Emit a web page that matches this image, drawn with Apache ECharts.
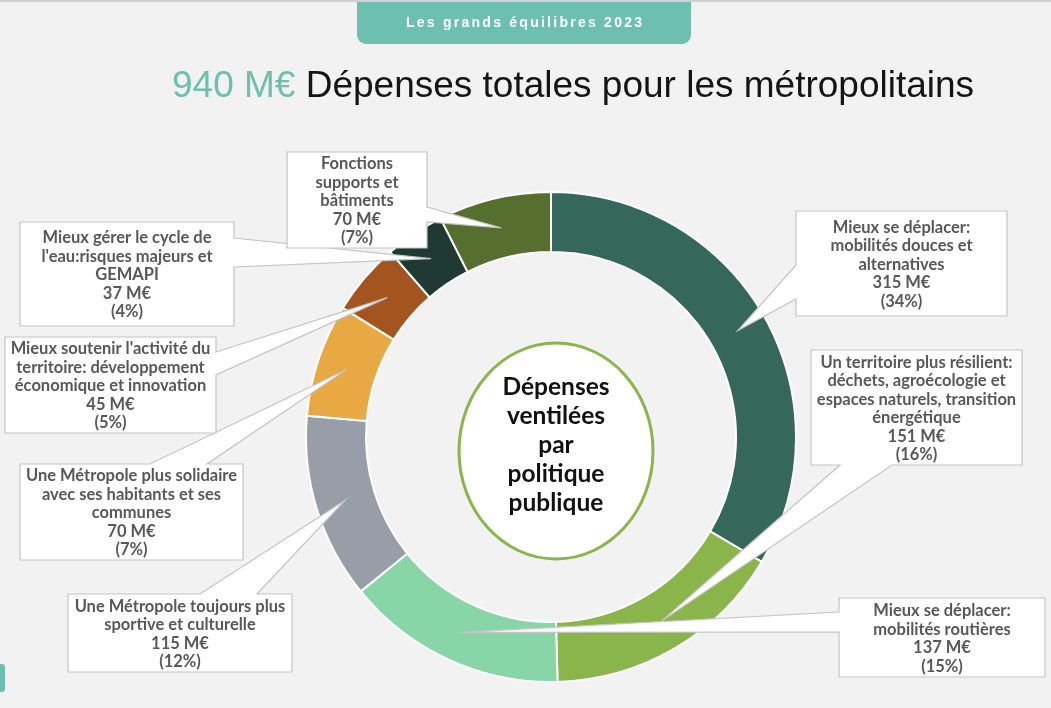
<!DOCTYPE html>
<html><head><meta charset="utf-8">
<script src="https://cdn.jsdelivr.net/npm/echarts@6/dist/echarts.min.js"></script>
<style>html,body{margin:0;padding:0;background:#f2f2f2;overflow:hidden}#c{width:1051px;height:708px}</style>
</head><body><div id="c"></div>
<script>
// ---- data ----
const categories = [
  'Mieux se déplacer:\nmobilités douces et\nalternatives',
  'Un territoire plus résilient:\ndéchets, agroécologie et\nespaces naturels, transition\nénergétique',
  'Mieux se déplacer:\nmobilités routières',
  'Une Métropole toujours plus\nsportive et culturelle',
  'Une Métropole plus solidaire\navec ses habitants et ses\ncommunes',
  "Mieux soutenir l'activité du\nterritoire: développement\néconomique et innovation",
  "Mieux gérer le cycle de\nl'eau:risques majeurs et\nGEMAPI",
  'Fonctions\nsupports et\nbâtiments'
];
const values = [315, 151, 137, 115, 70, 45, 37, 70];
const unit = ' M€';
const totalLabel = '940 M€';
const titleText = 'Dépenses totales pour les métropolitains';
const tabText = 'Les grands équilibres 2023';
const centerText = 'Dépenses\nventilées\npar\npolitique\npublique';

// ---- styles / layout ----
const colors = ['#35675a', '#8ab54a', '#88d6a8', '#979ea7', '#e8a843', '#a4551f', '#1f3a32', '#566e2e'];
const teal = '#6dbfb0';
const boxes = [
  {x0: 796, y0: 211, x1: 1007, y1: 316, side: 'left',   b: [265, 299]},
  {x0: 811, y0: 350, x1: 1022, y1: 465, side: 'bottom', b: [840, 892]},
  {x0: 839, y0: 598, x1: 1045, y1: 677, side: 'left',   b: [612, 632]},
  {x0: 68,  y0: 594, x1: 292,  y1: 672, side: 'top',    b: [200, 257]},
  {x0: 20,  y0: 464, x1: 243,  y1: 560, side: 'top',    b: [150, 207]},
  {x0: 5,   y0: 337, x1: 216,  y1: 433, side: 'right',  b: [352, 375]},
  {x0: 20,  y0: 222, x1: 234,  y1: 326, side: 'right',  b: [238, 267]},
  {x0: 287, y0: 152, x1: 427,  y1: 248, side: 'right',  b: [207, 222]}
];

const chart = echarts.init(document.getElementById('c'), null, {renderer: 'canvas'});
const total = values.reduce((a, b) => a + b, 0);

chart.setOption({
  backgroundColor: '#f2f2f2',
  animation: false,
  series: [{
    type: 'pie',
    center: [551, 437],
    radius: [185, 245],
    startAngle: 90,
    clockwise: true,
    silent: true,
    avoidLabelOverlap: false,
    label: {show: false},
    labelLine: {show: false},
    itemStyle: {borderColor: '#ffffff', borderWidth: 2},
    data: values.map((v, i) => ({name: categories[i], value: v, itemStyle: {color: colors[i]}}))
  }]
});

// tips of callouts: mid-angle, mid-radius point of each slice (from the pie layout)
let tips = [];
try {
  const d = chart.getModel().getSeriesByIndex(0).getData();
  for (let i = 0; i < values.length; i++) {
    const L = d.getItemLayout(i);
    const mid = (L.startAngle + L.endAngle) / 2;
    const rm = (L.r + L.r0) / 2;
    tips.push([L.cx + rm * Math.cos(mid), L.cy + rm * Math.sin(mid)]);
  }
} catch (e) {
  tips = [];
  let a = -Math.PI / 2;
  for (let i = 0; i < values.length; i++) {
    const span = values[i] / total * Math.PI * 2;
    const mid = a + span / 2;
    tips.push([551 + 215 * Math.cos(mid), 437 + 215 * Math.sin(mid)]);
    a += span;
  }
}

function calloutPoints(bx, tip) {
  const {x0, y0, x1, y1, side, b} = bx;
  if (side === 'top') return [[x0, y0], [b[0], y0], tip, [b[1], y0], [x1, y0], [x1, y1], [x0, y1]];
  if (side === 'right') return [[x0, y0], [x1, y0], [x1, b[0]], tip, [x1, b[1]], [x1, y1], [x0, y1]];
  if (side === 'bottom') return [[x0, y0], [x1, y0], [x1, y1], [b[1], y1], tip, [b[0], y1], [x0, y1]];
  return [[x0, y0], [x1, y0], [x1, y1], [x0, y1], [x0, b[1]], tip, [x0, b[0]]];
}

const elements = [
  {type: 'rect', shape: {x: 0, y: 0, width: 1051, height: 2}, style: {fill: '#cfcfcf'}, z: 1},
  {type: 'rect', shape: {x: 357, y: 2, width: 334, height: 42, r: [0, 0, 9, 9]}, style: {fill: teal}, z: 1},
  {type: 'text', x: 172, y: 87, z: 2, style: {
    text: '{a|' + totalLabel + '}{b| ' + titleText + '}',
    verticalAlign: 'middle', align: 'left',
    rich: {
      a: {fill: teal, font: '37px "Liberation Sans", Arial'},
      b: {fill: '#141414', font: '37px "Liberation Sans", Arial'}
    }}},
  {type: 'rect', shape: {x: -4, y: 664, width: 9, height: 28, r: 3}, style: {fill: teal}, z: 1},
  {type: 'ellipse', shape: {cx: 556, cy: 451, rx: 97, ry: 108}, style: {fill: '#ffffff', stroke: '#8ab54a', lineWidth: 3}, z: 5},
  {type: 'text', x: 556, y: 445, z: 6, style: {
    text: centerText, font: 'bold 24.5px Lato, "Open Sans", sans-serif', fill: '#111111',
    align: 'center', verticalAlign: 'middle', lineHeight: 29}}
];

// letter-spaced tab title
(function () {
  const font = 'bold 14px "Liberation Sans", Arial';
  const ctx = document.createElement('canvas').getContext('2d');
  ctx.font = font;
  const chars = tabText.split('');
  const widths = chars.map(c => ctx.measureText(c).width);
  const plain = widths.reduce((a, b) => a + b, 0);
  const ls = Math.max(0, (236 - plain) / (chars.length - 1));
  let x = 524 - (plain + ls * (chars.length - 1)) / 2;
  chars.forEach((c, i) => {
    elements.push({type: 'text', x: x, y: 23, z: 2, style: {text: c, font: font, fill: '#ffffff', align: 'left', verticalAlign: 'middle'}});
    x += widths[i] + ls;
  });
})();

for (let i = 0; i < values.length; i++) {
  const bx = boxes[i];
  const pct = Math.round(values[i] / total * 100);
  elements.push({
    type: 'polygon', z: 10, z2: i * 2,
    shape: {points: calloutPoints(bx, tips[i])},
    style: {fill: '#ffffff', stroke: '#c4c4c4', lineWidth: 1.2}
  });
  elements.push({
    type: 'text', z: 10, z2: i * 2 + 1,
    x: (bx.x0 + bx.x1) / 2, y: (bx.y0 + bx.y1) / 2 + 1,
    style: {
      text: categories[i] + '\n' + values[i] + unit + '\n(' + pct + '%)',
      font: 'bold 16.5px Lato, "Open Sans", sans-serif', fill: '#585858',
      align: 'center', verticalAlign: 'middle', lineHeight: 18.5
    }
  });
}

chart.setOption({graphic: {elements: elements}});
</script>
</body></html>
